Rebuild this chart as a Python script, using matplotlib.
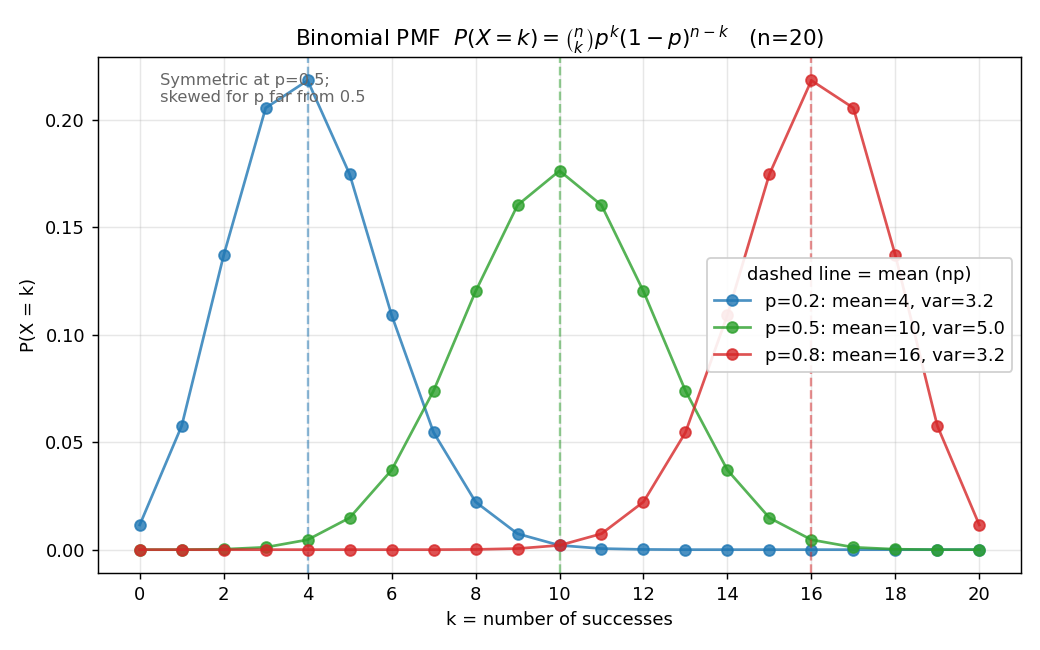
import matplotlib
matplotlib.use("Agg")
import matplotlib.pyplot as plt

k = list(range(21))
pmf_p02 = [0.0115, 0.0576, 0.1369, 0.2054, 0.2182, 0.1746, 0.1091, 0.0545, 0.0222, 0.0074,
           0.0020, 0.0005, 0.0001, 0.0000, 0.0000, 0.0000, 0.0000, 0.0000, 0.0000, 0.0000, 0.0000]
pmf_p05 = [0.0000, 0.0000, 0.0002, 0.0011, 0.0046, 0.0148, 0.0370, 0.0739, 0.1201, 0.1602,
           0.1762, 0.1602, 0.1201, 0.0739, 0.0370, 0.0148, 0.0046, 0.0011, 0.0002, 0.0000, 0.0000]
pmf_p08 = [0.0000, 0.0000, 0.0000, 0.0000, 0.0000, 0.0000, 0.0000, 0.0000, 0.0001, 0.0005,
           0.0020, 0.0074, 0.0222, 0.0545, 0.1091, 0.1746, 0.2182, 0.2054, 0.1369, 0.0576, 0.0115]
means = [4, 10, 16]
labels = ["p=0.2: mean=4, var=3.2", "p=0.5: mean=10, var=5.0", "p=0.8: mean=16, var=3.2"]
colors = ["#1f77b4", "#2ca02c", "#d62728"]
series = [pmf_p02, pmf_p05, pmf_p08]

fig = plt.figure(figsize=(8, 5), dpi=130)
ax = fig.add_axes([0.094, 0.118, 0.888, 0.794])

for vals, m, lab, c in zip(series, means, labels, colors):
    ax.plot(k, vals, marker="o", color=c, alpha=0.8, lw=1.5, ms=6, label=lab)
    ax.axvline(m, color=c, ls="--", alpha=0.5, lw=1.3)

ax.set_xticks(range(0, 21, 2))
ax.set_xlim(-1, 21)
ax.set_ylim(-0.011, 0.229)
ax.grid(True, alpha=0.3)
ax.set_xlabel("k = number of successes", fontsize=10)
ax.set_ylabel("P(X = k)", fontsize=10)
ax.tick_params(labelsize=10)
ax.set_title(r"Binomial PMF  $P(X=k)=\binom{n}{k}p^k(1-p)^{n-k}$   (n=20)", fontsize=12)
ax.text(0.067, 0.97, "Symmetric at p=0.5;\nskewed for p far from 0.5", transform=ax.transAxes,
        va="top", ha="left", fontsize=9, color="0.4")
leg = ax.legend(title="dashed line = mean (np)", loc="center right", fontsize=10,
                title_fontsize=10, framealpha=0.9)

fig.savefig("out.png", dpi=130)
